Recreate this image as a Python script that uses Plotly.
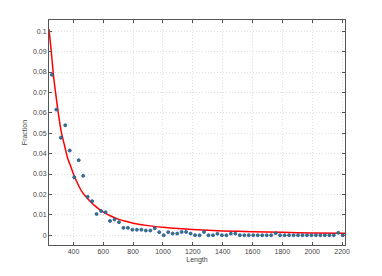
import plotly.graph_objects as go

# Observed data points (Length, Fraction)
lengths = [255, 285, 315, 345, 375, 405, 435, 465, 495, 525,
           555, 585, 615, 645, 675, 705, 735, 765, 795, 825,
           855, 885, 915, 945, 975, 1005, 1035, 1065, 1095, 1125,
           1155, 1185, 1215, 1245, 1275, 1305, 1335, 1365, 1395, 1425,
           1455, 1485, 1515, 1545, 1575, 1605, 1635, 1665, 1695, 1725,
           1755, 1785, 1815, 1845, 1875, 1905, 1935, 1965, 1995, 2025,
           2055, 2085, 2115, 2145, 2175, 2205]
fractions = [0.0787, 0.0616, 0.0478, 0.0539, 0.0415, 0.0284, 0.0368, 0.0291, 0.0188, 0.0167,
             0.0104, 0.0119, 0.0113, 0.0070, 0.0077, 0.0064, 0.0036, 0.0036, 0.0027, 0.0027,
             0.0027, 0.0023, 0.0023, 0.0034, 0.0015, 0.0000, 0.0015, 0.0008, 0.0008, 0.0016,
             0.0016, 0.0008, 0.0000, 0.0000, 0.0016, 0.0000, 0.0000, 0.0007, 0.0000, 0.0000,
             0.0008, 0.0008, 0.0000, 0.0000, 0.0000, 0.0000, 0.0000, 0.0000, 0.0000, 0.0000,
             0.0010, 0.0000, 0.0000, 0.0000, 0.0000, 0.0000, 0.0000, 0.0000, 0.0000, 0.0000,
             0.0000, 0.0000, 0.0000, 0.0000, 0.0012, 0.0000]

# Fitted curve
fit_x = [236, 250, 265, 280, 300, 320, 340, 360, 380, 400,
         430, 460, 500, 550, 600, 650, 700, 750, 800, 900,
         1000, 1100, 1200, 1400, 1600, 1800, 2000, 2220]
fit_y = [0.101, 0.091, 0.079, 0.070, 0.059, 0.050, 0.044, 0.038, 0.034, 0.030,
         0.025, 0.021, 0.0175, 0.0140, 0.0113, 0.0094, 0.0079, 0.0068, 0.0059, 0.0047,
         0.0039, 0.0033, 0.0028, 0.0021, 0.0017, 0.0014, 0.0011, 0.0009]

x_ticks = [400, 600, 800, 1000, 1200, 1400, 1600, 1800, 2000, 2200]
y_ticks = [0, 0.01, 0.02, 0.03, 0.04, 0.05, 0.06, 0.07, 0.08, 0.09, 0.1]
y_tick_text = ["0", "0.01", "0.02", "0.03", "0.04", "0.05", "0.06", "0.07", "0.08", "0.09", "0.1"]

fig = go.Figure()
fig.add_trace(go.Scatter(x=fit_x, y=fit_y, mode="lines",
                         line=dict(color="#ff0000", width=1.5, shape="spline", smoothing=0.6),
                         showlegend=False, hoverinfo="skip"))
fig.add_trace(go.Scatter(x=lengths, y=fractions, mode="markers",
                         marker=dict(size=3, color="#2e8b3a", line=dict(color="#2a48d0", width=0.8)),
                         showlegend=False))

font_family = "Liberation Sans, Arial"
axis_common = dict(showline=True, linecolor="#555", linewidth=1, mirror="ticks",
                   ticks="inside", ticklen=3, tickcolor="#555",
                   showgrid=True, gridcolor="#e0e0e0", griddash="1px,2px", gridwidth=1,
                   zeroline=False, tickfont=dict(family=font_family, size=7, color="#444"))

# page body has an 8px default margin, so the figure is offset by 8px
fig.update_layout(
    width=382, height=276,
    margin=dict(l=41, r=45, t=12, b=39),
    paper_bgcolor="white", plot_bgcolor="white",
    xaxis=dict(range=[236, 2220], tickvals=x_ticks,
               title=dict(text="Length", font=dict(family=font_family, size=7, color="#444"), standoff=2),
               **axis_common),
    yaxis=dict(range=[-0.0048, 0.1055], tickvals=y_ticks, ticktext=y_tick_text,
               title=dict(text="Fraction", font=dict(family=font_family, size=7, color="#444"), standoff=4),
               **axis_common),
)

fig.write_html("out.html")
